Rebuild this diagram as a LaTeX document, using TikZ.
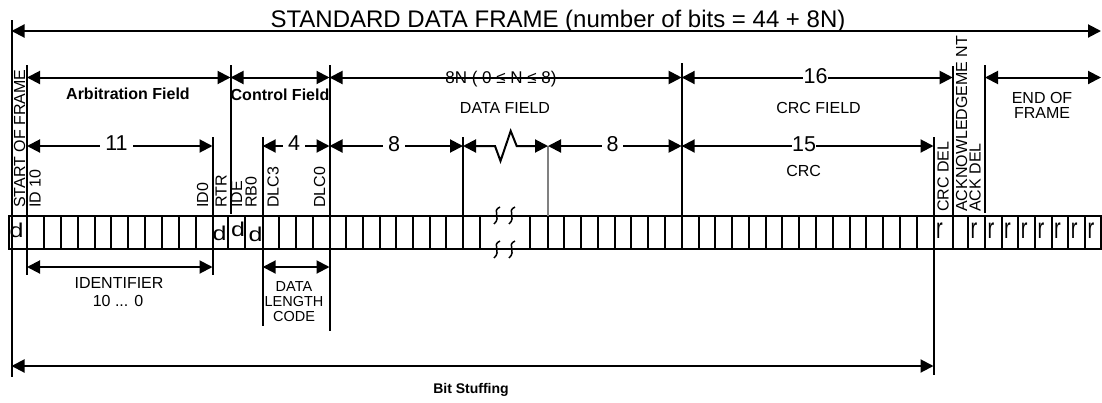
\documentclass[tikz,border=0pt]{standalone}
\usepackage{fontspec}
\setmainfont{Liberation Sans}
\usetikzlibrary{arrows.meta}
\begin{document}
\begin{tikzpicture}[x=1pt,y=-1pt,
  ln/.style={line width=2pt},
  dimln/.style={line width=2pt,{Triangle[length=13pt,width=13pt]}-{Triangle[length=13pt,width=13pt]}},
  txt/.style={anchor=base,inner sep=0pt,font=\fontsize{16}{15}\selectfont},
  small/.style={anchor=base,inner sep=0pt,font=\fontsize{14.5}{15}\selectfont},
  boldtxt/.style={anchor=base,inner sep=0pt,font=\fontsize{16}{15}\selectfont\bfseries},
  vt/.style={rotate=90,anchor=base west,inner sep=0pt,font=\fontsize{16}{16}\selectfont},
  num/.style={anchor=base,fill=white,inner ysep=0pt,inner xsep=5pt,font=\fontsize{21.5}{21.5}\selectfont},
  bit/.style={anchor=base west,inner sep=0pt,font=\fontsize{20}{20}\selectfont},
  brk/.style={line width=1.5pt},
]
\useasboundingbox (0,0) rectangle (1102,402);

% ---- bit row ----
\draw[ln] (9,216) rectangle (1101,249);
\foreach \x in {27,43.9,60.8,77.6,94.5,111.4,128.3,145.2,162.1,179,195.8,212.5,227.5,
  262.7,279.4,296.1,312.8,329.5,346.2,362.9,379.6,396.3,413,429.7,446.4,463,479.5,
  530,547.5,564.3,581,597.8,614.6,631.4,648.2,665,681.7,698.5,715.3,732.1,748.9,765.6,
  782.4,799.2,816,832.8,849.6,866.4,883.2,900,916.7,933.5,953,968,985,1001.6,1018.3,
  1035,1051.6,1068.3,1085}
  \draw[ln] (\x,216) -- (\x,249);
\draw[line width=2.8pt] (245,216) -- (245,249);

% break marks
\foreach \x in {496,511}{
  \draw[brk] (\x+4,207) .. controls (\x-5,211) and (\x+6,217) .. (\x-2,224);
  \draw[brk] (\x+4,241) .. controls (\x-5,245) and (\x+6,251) .. (\x-2,258);
}

% bit values
\node[bit] (b0) at (9.5,237) {\scalebox{1.25}[1]{d}};
\node[bit] (b1) at (212.5,240) {\scalebox{1.25}[1]{d}};
\node[bit] (b2) at (231,236.5) {\scalebox{1.25}[1]{d}};
\node[bit] (b3) at (248.5,241) {\scalebox{1.25}[1]{d}};
\foreach \x [count=\i] in {933.5,968,985,1001.6,1018.3,1035,1051.6,1068.3,1085}
  \node[bit] (r\i) at (\x+2.3,238) {\scalebox{1}[1.45]{r}};

% ---- marker lines ----
\draw[ln] (11.5,20) -- (11.5,377);
\draw[ln] (27,65) -- (27,275);
\draw[ln] (212.5,137) -- (212.5,275);
\draw[ln] (230.5,65) -- (230.5,214);
\draw[ln] (262.7,137) -- (262.7,326);
\draw[ln] (329.5,65) -- (329.5,331);
\draw[ln] (463,137) -- (463,216);
\draw[ln,gray] (548,146) -- (548,216);
\draw[ln] (681.7,63) -- (681.7,216);
\draw[ln] (933.5,137) -- (933.5,375);
\draw[ln] (952.7,66) -- (952.7,216);
\draw[ln] (985,65) -- (985,213);

% ---- coordinates of arrow ends ----
\coordinate (t1) at (11.5,31);   \coordinate (t2) at (1101,31);
\coordinate (a1) at (27,77.5);   \coordinate (a2) at (230.5,77.5);
\coordinate (a3) at (329.5,77.5);\coordinate (a4) at (681.7,77.5);
\coordinate (a5) at (952.7,77.5);\coordinate (a6) at (985,77.5);
\coordinate (a7) at (1101,77.5);
\coordinate (m1) at (27,146);    \coordinate (m2) at (212.5,146);
\coordinate (m3) at (262.7,146); \coordinate (m4) at (329.5,146);
\coordinate (m5) at (463,146);   \coordinate (m6) at (548,146);
\coordinate (m7) at (681.7,146); \coordinate (m8) at (933.5,146);
\coordinate (l1) at (27,267);    \coordinate (l2) at (212.5,267);
\coordinate (l3) at (262.7,267); \coordinate (l4) at (329.5,267);
\coordinate (s1) at (11.5,366);  \coordinate (s2) at (933.5,366);

% ---- dimension arrows ----
\draw[dimln] (t1) -- (t2);
\draw[dimln] (a1) -- (a2);
\draw[dimln] (a2) -- (a3);
\draw[dimln] (a3) -- (a4);
\draw[dimln] (a4) -- (a5);
\draw[dimln] (a6) -- (a7);
\draw[dimln] (m1) -- (m2);
\draw[dimln] (m3) -- (m4);
\draw[dimln] (m4) -- (m5);
\draw[dimln] (m5) -- (495,146) -- (500.5,161) -- (510.7,131) -- (516.7,146) -- (m6);
\draw[dimln] (m6) -- (m7);
\draw[dimln] (m7) -- (m8);
\draw[dimln] (l1) -- (l2);
\draw[dimln] (l3) -- (l4);
\draw[dimln] (s1) -- (s2);

% ---- texts ----
\node[anchor=base,inner sep=0pt,font=\fontsize{24}{24}\selectfont] (title) at (558,27)
  {STANDARD DATA FRAME (number of bits = 44 + 8N)};
\node[boldtxt] (arb) at (128,99) {Arbitration Field};
\node[boldtxt] (ctl) at (280,100) {Control Field};
\node[anchor=base,inner sep=0pt,font=\fontsize{17}{17}\selectfont] (dn) at (501,83.5) {8N ( 0 ≤ N ≤ 8)};
\node[txt] (df) at (505,113.3) {DATA FIELD};
\node[txt] (cf) at (818.5,113.3) {CRC FIELD};
\node[txt] (crc) at (803.7,176) {CRC};
\node[txt] (eof1) at (1042,103.3) {END OF};
\node[txt] (eof2) at (1042,118.3) {FRAME};

\node[num] (n11) at (116.5,150) {11};
\node[num] (n4) at (294,150) {4};
\node[num] (n8a) at (394,151.5) {8};
\node[num] (n8b) at (612.5,151.5) {8};
\node[num,inner xsep=0.5pt] (n16) at (815.5,83.5) {16};
\node[num,inner xsep=0.5pt] (n15) at (804,151.5) {15};

\node[vt] (v1) at (25,208) {START OF FRAME};
\node[vt] (v2) at (40.5,208) {ID 10};
\node[vt] (v3) at (208,208) {ID0};
\node[vt] (v4) at (226.5,208) {RTR};
\node[vt] (v5) at (242,208) {IDE};
\node[vt] (v6) at (256.5,208) {RB0};
\node[vt] (v7) at (278.5,208) {DLC3};
\node[vt] (v8) at (325,208) {DLC0};
\node[vt] (v9) at (948.5,212) {CRC DEL};
\node[vt] (v10) at (967,212) {ACKNOWLEDGEME NT};
\node[vt] (v11) at (980.5,212) {ACK DEL};

\node[txt] (id1) at (119,288) {IDENTIFIER};
\node[txt] (id2) at (118,306) {10 ... 0};
\node[small] (dl1) at (294,291.7) {DATA};
\node[small] (dl2) at (294,306.7) {LENGTH};
\node[small] (dl3) at (294,321.7) {CODE};
\node[anchor=base,inner sep=0pt,font=\fontsize{14}{14}\selectfont\bfseries] (bs) at (471,393) {Bit Stuffing};
\end{tikzpicture}
\end{document}
